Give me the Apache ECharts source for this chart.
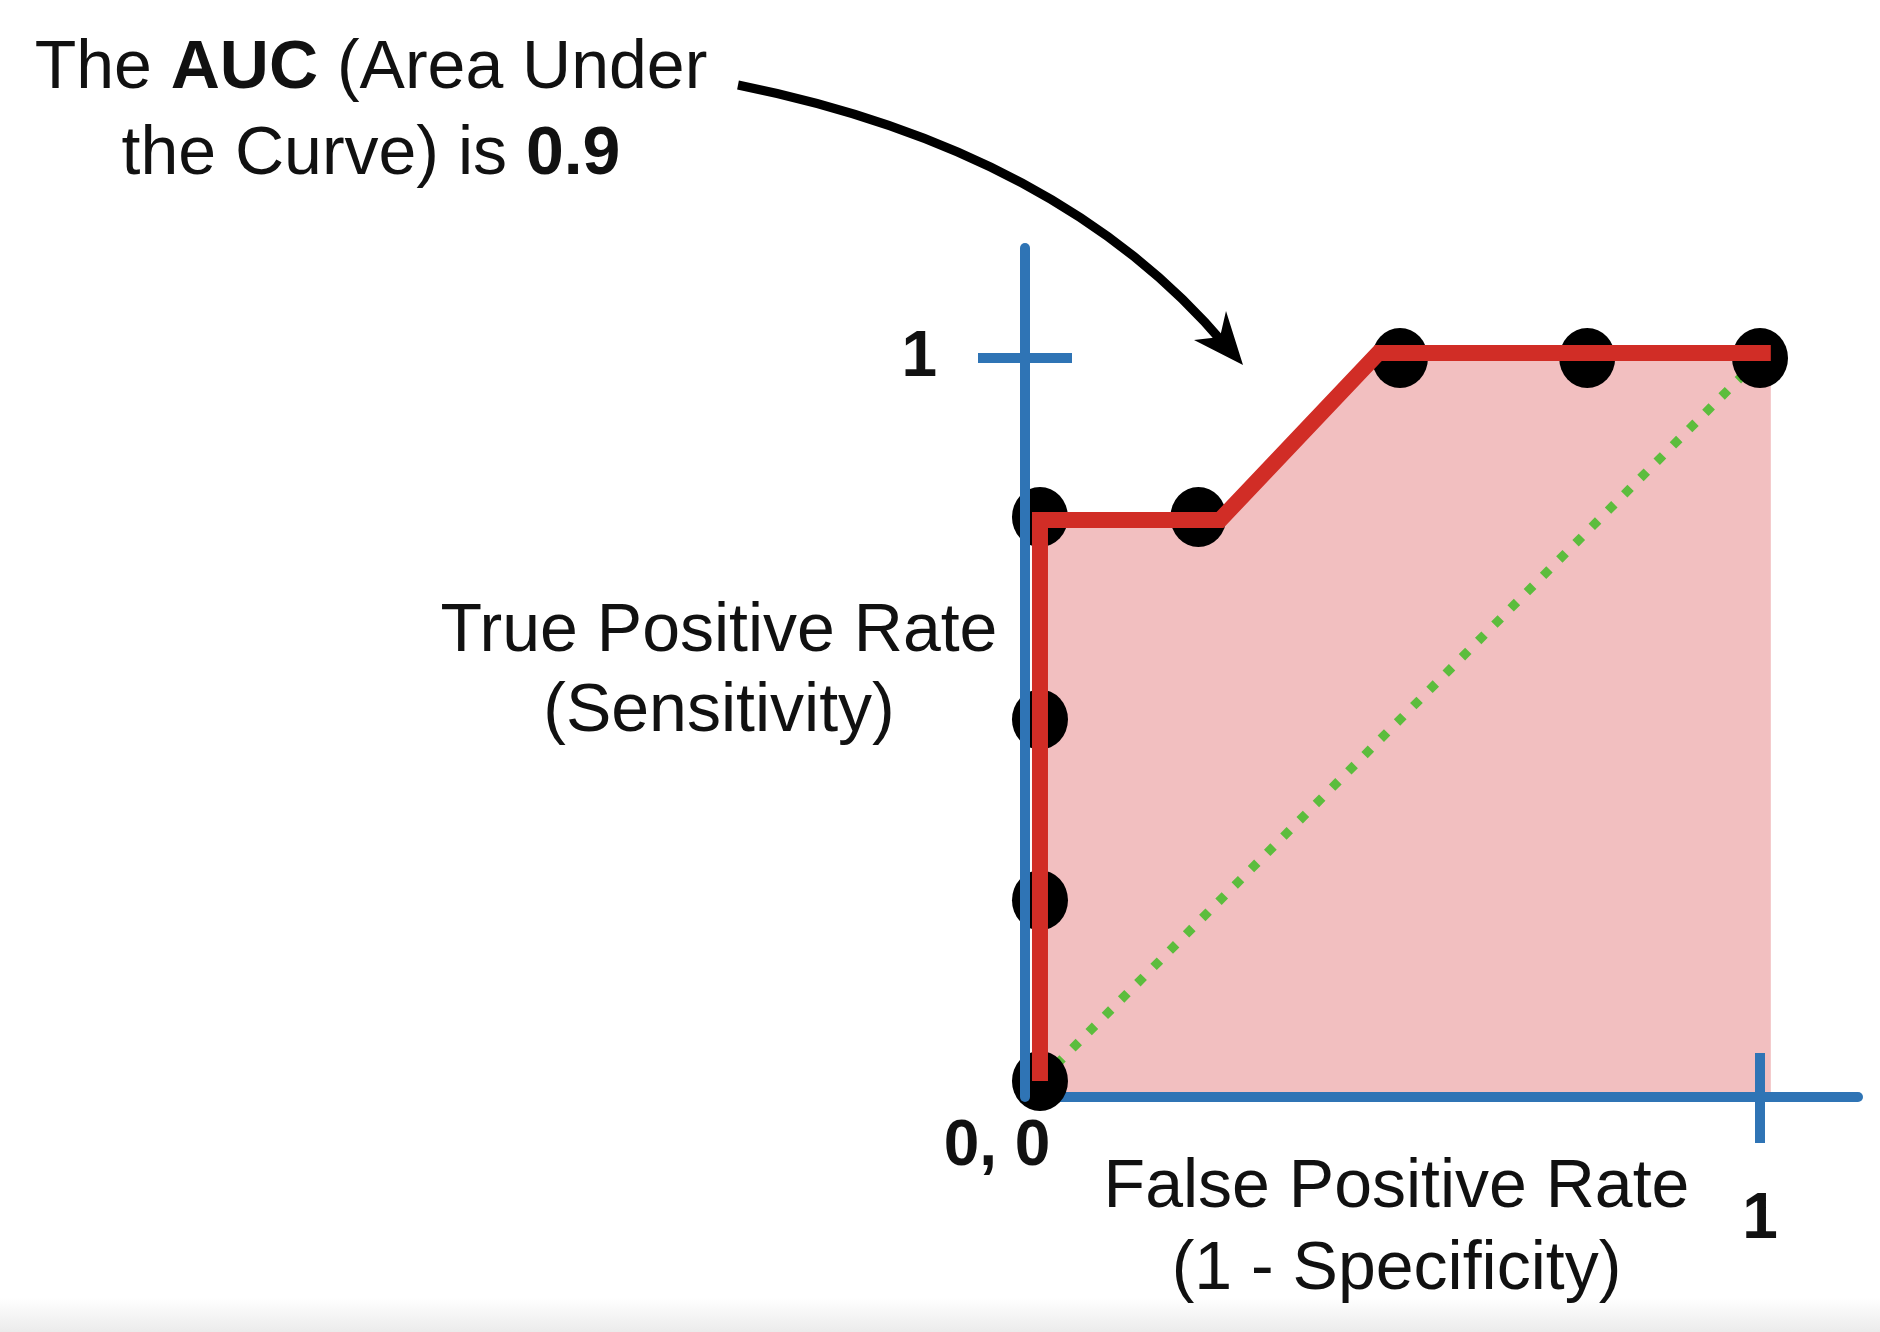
<!DOCTYPE html>
<html>
<head>
<meta charset="utf-8">
<title>ROC AUC</title>
<script src="https://cdn.jsdelivr.net/npm/echarts@6/dist/echarts.min.js"></script>
<style>
  html, body { margin: 0; padding: 0; background: #fff; }
  #roc { width: 1880px; height: 1332px; }
</style>
</head>
<body>
<div id="roc"></div>
<script>
// black dots (threshold results)
var pointX = [0, 0, 0, 0, 0.22, 0.5, 0.76, 1];
var pointY = [0, 0.25, 0.5, 0.78, 0.78, 1, 1, 1];
// red ROC curve as drawn
var curveX = [0, 0, 0.25, 0.47, 1.015];
var curveY = [0, 0.776, 0.776, 1.007, 1.007];
// green random-guess diagonal
var diagX = [0, 1];
var diagY = [0, 1];
// tick values on both axes
var xTicks = [1];
var yTicks = [1];

var BLUE = '#2f74b5';
var FONT = 'Liberation Sans';

function pairs(xs, ys) {
  var out = [];
  for (var i = 0; i < xs.length; i++) {
    out.push([xs[i], ys[i]]);
  }
  return out;
}

var chart = echarts.init(document.getElementById('roc'));

var option = {
  backgroundColor: '#fff',
  animation: false,
  title: [{
    text: 'The {b|AUC} (Area Under\nthe Curve) is {b|0.9}',
    left: 366,
    top: 21,
    textAlign: 'center',
    textStyle: {
      fontFamily: FONT, fontSize: 68, fontWeight: 'normal', color: '#111', lineHeight: 86,
      rich: {
        b: { fontFamily: FONT, fontSize: 68, fontWeight: 'bold', color: '#111', lineHeight: 86 }
      }
    }
  }, {
    text: '0, 0',
    left: 992,
    top: 1110,
    textAlign: 'center',
    textStyle: { fontFamily: FONT, fontSize: 64, fontWeight: 'bold', color: '#111', lineHeight: 64 }
  }],
  grid: { left: 1025, right: 22, top: 248, bottom: 235, outerBoundsMode: 'none' },
  xAxis: [{
    type: 'value',
    min: -0.0208,
    max: 1.1361,
    z: 3,
    name: 'False Positive Rate\n(1 - Specificity)',
    nameLocation: 'middle',
    nameGap: 50,
    nameMoveOverlap: false,
    nameTextStyle: {
      fontFamily: FONT, fontSize: 68, color: '#111', lineHeight: 82,
      align: 'center', verticalAlign: 'top', padding: [0, 90, 0, 0]
    },
    axisLine: { show: true, onZero: false, lineStyle: { color: BLUE, width: 10 } },
    axisTick: { show: true, customValues: xTicks, length: 46, lineStyle: { color: BLUE, width: 10 } },
    axisLabel: {
      show: true, customValues: xTicks, margin: 91,
      fontFamily: FONT, fontSize: 64, fontWeight: 'bold', color: '#111', lineHeight: 64,
      formatter: function (v) { return String(v); }
    },
    splitLine: { show: false }
  }, {
    type: 'value',
    min: -0.0208,
    max: 1.1361,
    z: 3,
    position: 'bottom',
    axisLine: { show: false, onZero: false },
    axisTick: { show: true, inside: true, customValues: xTicks, length: 44, lineStyle: { color: BLUE, width: 10 } },
    axisLabel: { show: false },
    splitLine: { show: false }
  }],
  yAxis: [{
    type: 'value',
    min: -0.0221,
    max: 1.1521,
    z: 5,
    name: 'True Positive Rate\n(Sensitivity)',
    nameLocation: 'middle',
    nameRotate: 0,
    nameGap: 306,
    nameMoveOverlap: false,
    nameTextStyle: {
      fontFamily: FONT, fontSize: 68, color: '#111', lineHeight: 80,
      align: 'center', verticalAlign: 'middle'
    },
    axisLine: { show: true, onZero: false, lineStyle: { color: BLUE, width: 10 } },
    axisTick: { show: true, customValues: yTicks, length: 47, lineStyle: { color: BLUE, width: 10 } },
    axisLabel: {
      show: true, customValues: yTicks, margin: 88,
      fontFamily: FONT, fontSize: 64, fontWeight: 'bold', color: '#111',
      formatter: function (v) { return String(v); }
    },
    splitLine: { show: false }
  }, {
    type: 'value',
    min: -0.0221,
    max: 1.1521,
    z: 5,
    position: 'left',
    axisLine: { show: false, onZero: false },
    axisTick: { show: true, inside: true, customValues: yTicks, length: 47, lineStyle: { color: BLUE, width: 10 } },
    axisLabel: { show: false },
    splitLine: { show: false }
  }],
  series: [{
    // pink area under the curve
    name: 'area',
    type: 'line',
    z: 1,
    data: pairs(curveX, curveY),
    showSymbol: false,
    lineStyle: { width: 0, opacity: 0 },
    areaStyle: { color: '#f2bfc0', opacity: 1, origin: 'start' },
    silent: true
  }, {
    name: 'diagonal',
    type: 'line',
    z: 2,
    data: pairs(diagX, diagY),
    showSymbol: false,
    lineStyle: { color: '#5cbd3d', width: 9, type: [9, 14] },
    silent: true
  }, {
    name: 'thresholds',
    type: 'scatter',
    z: 4,
    data: pairs(pointX, pointY),
    symbol: 'circle',
    symbolSize: [56, 60],
    itemStyle: { color: '#000', opacity: 1 },
    silent: true
  }, {
    name: 'roc',
    type: 'line',
    z: 6,
    data: pairs(curveX, curveY),
    showSymbol: false,
    lineStyle: { color: '#d12d26', width: 16, join: 'miter', cap: 'butt' },
    silent: true
  }],
  graphic: [{
    type: 'rect',
    z: -10,
    shape: { x: 0, y: 1298, width: 1880, height: 34 },
    style: {
      fill: new echarts.graphic.LinearGradient(0, 0, 0, 1, [
        { offset: 0, color: '#ffffff' },
        { offset: 1, color: '#ebebeb' }
      ])
    },
    silent: true
  }, {
    type: 'bezierCurve',
    z: 10,
    shape: { x1: 738, y1: 85, cpx1: 1061, cpy1: 150, x2: 1226, y2: 346 },
    style: { stroke: '#000', lineWidth: 9, fill: null },
    silent: true
  }, {
    type: 'polygon',
    z: 10,
    shape: { points: [[1243, 365], [1194, 340], [1220, 337], [1226, 311]] },
    style: { fill: '#000' },
    silent: true
  }]
};

chart.setOption(option);
</script>
</body>
</html>
